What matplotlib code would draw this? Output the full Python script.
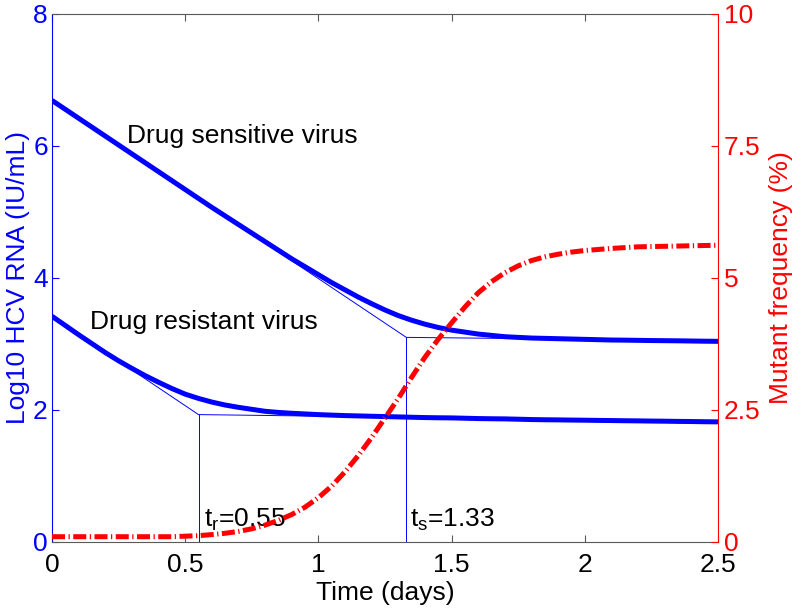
import matplotlib
matplotlib.use("Agg")
import matplotlib.pyplot as plt

plt.rcParams['font.family'] = ['Liberation Sans', 'DejaVu Sans']

# time grid (days)
days = [0.0, 0.05, 0.1, 0.15, 0.2, 0.25, 0.3, 0.35, 0.4, 0.45, 0.5,
        0.55, 0.6, 0.65, 0.7, 0.75, 0.8, 0.85, 0.9, 0.95, 1.0,
        1.05, 1.1, 1.15, 1.2, 1.25, 1.3, 1.35, 1.4, 1.45, 1.5,
        1.55, 1.6, 1.65, 1.7, 1.75, 1.8, 1.85, 1.9, 1.95, 2.0,
        2.05, 2.1, 2.15, 2.2, 2.25, 2.3, 2.35, 2.4, 2.45, 2.5]

sensitive = [6.69, 6.555, 6.42, 6.285, 6.15, 6.015, 5.88, 5.745, 5.61, 5.475, 5.34,
             5.205, 5.07, 4.94, 4.81, 4.68, 4.55, 4.42, 4.29, 4.17, 4.05,
             3.93, 3.82, 3.71, 3.61, 3.515, 3.43, 3.36, 3.30, 3.25, 3.21,
             3.18, 3.15, 3.13, 3.11, 3.10, 3.09, 3.085, 3.08, 3.075, 3.07,
             3.065, 3.06, 3.058, 3.055, 3.052, 3.05, 3.048, 3.045, 3.042, 3.04]

resistant = [3.42, 3.28, 3.14, 3.005, 2.87, 2.745, 2.63, 2.52, 2.42, 2.325, 2.24,
             2.175, 2.12, 2.075, 2.04, 2.01, 1.98, 1.963, 1.95, 1.94, 1.93,
             1.922, 1.915, 1.91, 1.905, 1.90, 1.895, 1.89, 1.885, 1.882, 1.88,
             1.875, 1.87, 1.867, 1.865, 1.86, 1.855, 1.852, 1.85, 1.847, 1.845,
             1.842, 1.84, 1.837, 1.835, 1.832, 1.83, 1.827, 1.825, 1.822, 1.82]

mutant = [0.1, 0.1, 0.1, 0.1, 0.1, 0.1, 0.1, 0.1, 0.1, 0.1, 0.11,
          0.12, 0.14, 0.165, 0.2, 0.25, 0.32, 0.41, 0.52, 0.66, 0.84,
          1.06, 1.33, 1.64, 1.98, 2.35, 2.72, 3.12, 3.5, 3.84, 4.15,
          4.45, 4.72, 4.93, 5.1, 5.23, 5.33, 5.40, 5.45, 5.49, 5.52,
          5.54, 5.56, 5.575, 5.59, 5.595, 5.6, 5.605, 5.61, 5.615, 5.62]

# thin construction lines: tangent, plateau, and the crossing time
sens_guide_t = [0.0, 1.33, 2.5]
sens_guide_v = [6.69, 3.10, 3.05]
res_guide_t = [0.0, 0.55, 2.5]
res_guide_v = [3.42, 1.93, 1.83]
t_r, t_s = 0.55, 1.33

xticks = [0, 0.5, 1, 1.5, 2, 2.5]
xtick_labels = ['0', '0.5', '1', '1.5', '2', '2.5']
left_ticks = [0, 2, 4, 6, 8]
right_ticks = [0, 2.5, 5, 7.5, 10]
right_labels = ['0', '2.5', '5', '7.5', '10']

blue = (0, 0, 1)
red = (1, 0, 0)
fs = 19

fig = plt.figure(figsize=(8, 6.1), dpi=100)
ax = fig.add_axes([0.065, 0.1115, 0.8325, 0.8656])

ax.plot(days, sensitive, color=blue, lw=3.6, solid_capstyle='butt')
ax.plot(days, resistant, color=blue, lw=3.6, solid_capstyle='butt')
ax.plot(sens_guide_t, sens_guide_v, color=blue, lw=0.7)
ax.plot(res_guide_t, res_guide_v, color=blue, lw=0.7)
ax.plot([t_r, t_r], [0, res_guide_v[1]], color=blue, lw=0.7)
ax.plot([t_s, t_s], [0, sens_guide_v[1]], color=blue, lw=0.7)

ax.text(0.28, 6.15, 'Drug sensitive virus', fontsize=fs, va='center')
ax.text(0.143, 3.33, 'Drug resistant virus', fontsize=fs, va='center')
ax.text(0.57, 0.33, r'$\mathregular{t_r}$=0.55', fontsize=fs, va='center')
ax.text(1.345, 0.33, r'$\mathregular{t_s}$=1.33', fontsize=fs, va='center')

ax.set_xlim(0, 2.5)
ax.set_ylim(0, 8)
ax.set_xticks(xticks)
ax.set_xticklabels(xtick_labels)
ax.set_yticks(left_ticks)
ax.tick_params(axis='x', direction='in', top=True, labelsize=fs, length=5,
               color='0.35', pad=8)
ax.tick_params(axis='y', direction='in', labelsize=fs, length=5,
               colors=blue, pad=3)
ax.set_xlabel('Time (days)', fontsize=fs, labelpad=3)
ax.set_ylabel('Log10 HCV RNA (IU/mL)', fontsize=fs, color=blue, labelpad=2)
ax.spines['left'].set_color(blue)
ax.spines['top'].set_color('0.35')
ax.spines['bottom'].set_color('0.35')
ax.spines['right'].set_visible(False)

ax2 = ax.twinx()
ax2.plot(days, mutant, color=red, lw=3.6,
         linestyle=(0, (2.6, 0.7, 0.25, 0.7)))
ax2.set_ylim(0, 10)
ax2.set_yticks(right_ticks)
ax2.set_yticklabels(right_labels)
ax2.tick_params(axis='y', direction='in', labelsize=fs, length=5,
                colors=red, pad=4)
ax2.set_ylabel('Mutant frequency (%)', fontsize=fs, color=red, labelpad=6)
ax2.spines['right'].set_color(red)
ax2.spines['left'].set_visible(False)
ax2.spines['top'].set_visible(False)
ax2.spines['bottom'].set_visible(False)

fig.savefig('out.png', dpi=100)
